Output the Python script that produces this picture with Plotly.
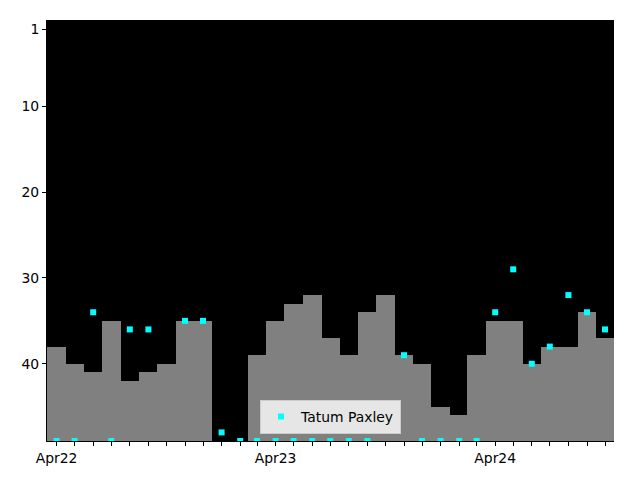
import plotly.graph_objects as go
import pandas as pd

months = pd.date_range("2022-04-01", "2024-10-01", freq="MS")
bar_values = [38, 40, 41, 35, 42, 41, 40, 35, 35, None, None, 39, 35, 33, 32, 37,
              39, 34, 32, 39, 40, 45, 46, 39, 35, 35, 40, 38, 38, 34, 37]
rank_values = [49, 49, 34, 49, 36, 36, None, 35, 35, 48, 49, 49, 49, 49, 49, 49,
               49, 49, None, 39, 49, 49, 49, 49, 34, 29, 40, 38, 32, 34, 36]
y_ticks = [1, 10, 20, 30, 40]
series_name = "Tatum Paxley"

BOTTOM = 49
month_ms = 31 * 24 * 3600 * 1000

fig = go.Figure()
fig.add_trace(go.Bar(
    x=months,
    y=[None if v is None else v - BOTTOM for v in bar_values],
    base=BOTTOM,
    width=month_ms,
    marker=dict(color="#808080", line=dict(width=0)),
    showlegend=False,
))
fig.add_trace(go.Scatter(
    x=months, y=rank_values, mode="markers", name=series_name,
    marker=dict(symbol="square", size=6, color="#00ffff"),
))

tickvals = list(months)
ticktext = [d.strftime("%b%y") if d.month == 4 else "" for d in months]

fig.update_layout(
    width=640, height=480,
    margin=dict(l=47, r=26, t=20, b=39),
    paper_bgcolor="white", plot_bgcolor="black",
    font=dict(family="DejaVu Sans", size=13.9, color="black"),
    bargap=0,
    showlegend=True,
    legend=dict(x=0.5, xanchor="center", y=0.017, yanchor="bottom",
                bgcolor="rgba(255,255,255,0.8)", bordercolor="#cccccc", borderwidth=1,
                font=dict(size=13.9)),
)
fig.update_xaxes(
    type="date", range=["2022-03-16", "2024-10-16"],
    tickvals=tickvals, ticktext=ticktext, ticks="outside", ticklen=4,
    tickcolor="black", showgrid=False, zeroline=False,
    showline=True, linecolor="black", linewidth=1,
)
fig.update_yaxes(
    range=[BOTTOM, -0.05], tickvals=y_ticks, ticks="outside", ticklen=4,
    tickcolor="black", showgrid=False, zeroline=False,
    showline=True, linecolor="black", linewidth=1,
)
fig.write_html("out.html")
